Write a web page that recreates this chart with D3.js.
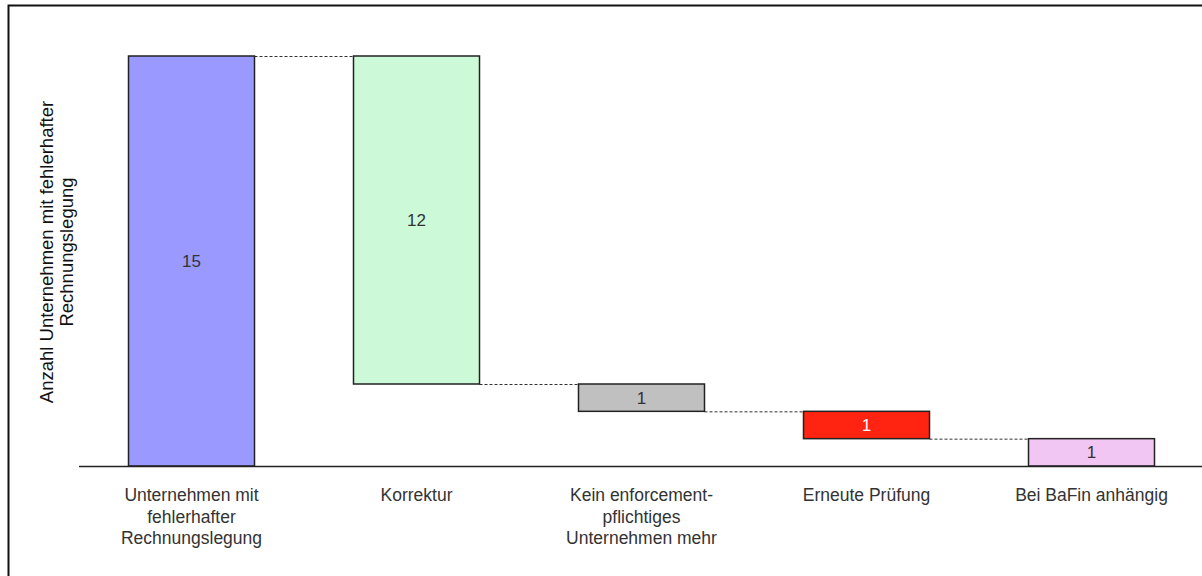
<!DOCTYPE html>
<html>
<head>
<meta charset="utf-8">
<script src="https://cdn.jsdelivr.net/npm/d3@7"></script>
<style>
  html, body { margin: 0; padding: 0; background: #fff; }
  svg { display: block; font-family: "Liberation Sans", Arial, sans-serif; }
</style>
</head>
<body>
<svg id="chart" width="1202" height="576"></svg>
<script>
'use strict'

// waterfall steps: first is the total, the others are taken off it
const categories = [
  ['Unternehmen mit', 'fehlerhafter', 'Rechnungslegung'],
  ['Korrektur'],
  ['Kein enforcement-', 'pflichtiges', 'Unternehmen mehr'],
  ['Erneute Prüfung'],
  ['Bei BaFin anhängig']
]
const values = [15, 12, 1, 1, 1]
const kinds = ['total', 'minus', 'minus', 'minus', 'minus']
const barColors = ['#9999ff', '#ccfad8', '#c0c0c0', '#ff2311', '#f2c6f2']
const labelColors = ['#333', '#333', '#333', '#fff', '#333']
const yTitle = ['Anzahl Unternehmen mit fehlerhafter', 'Rechnungslegung']

const svg = d3.select('#chart')

// outer frame, runs off the right and bottom edge
svg.append('rect')
  .attr('x', 8.5).attr('y', 5.5)
  .attr('width', 1210).attr('height', 590)
  .attr('fill', 'none').attr('stroke', '#111').attr('stroke-width', 2)

// running totals -> start/end of each bar
let level = 0
const steps = values.map((v, i) => {
  let from, to
  if (kinds[i] === 'total') { from = 0; to = v; level = v }
  else { from = level; to = level - v; level = to }
  return { i, v, from, to }
})

const x = d3.scaleBand()
  .domain(d3.range(values.length))
  .range([79, 1204])
  .paddingInner(0.44)
  .paddingOuter(0.22)

const y = d3.scaleLinear()
  .domain([0, 15])
  .range([466, 56])

// connectors between bars
const links = steps.slice(0, -1).map((s, i) => ({ a: s, b: steps[i + 1] }))
svg.append('g').attr('class', 'links')
  .selectAll('line').data(links).enter().append('line')
  .attr('x1', d => x(d.a.i) + x.bandwidth())
  .attr('x2', d => x(d.b.i))
  .attr('y1', d => y(d.a.to) + 0.5)
  .attr('y2', d => y(d.a.to) + 0.5)
  .attr('stroke', '#333').attr('stroke-width', 1)
  .attr('stroke-dasharray', '3,2')

// bars
svg.append('g').attr('class', 'bars')
  .selectAll('rect').data(steps).enter().append('rect')
  .attr('x', d => x(d.i))
  .attr('y', d => y(Math.max(d.from, d.to)))
  .attr('width', x.bandwidth())
  .attr('height', d => Math.abs(y(d.from) - y(d.to)))
  .attr('fill', d => barColors[d.i])
  .attr('stroke', '#222').attr('stroke-width', 1.5)

// values inside the bars
svg.append('g').attr('class', 'values')
  .selectAll('text').data(steps).enter().append('text')
  .attr('x', d => x(d.i) + x.bandwidth() / 2)
  .attr('y', d => (y(d.from) + y(d.to)) / 2)
  .attr('dy', '0.36em')
  .attr('text-anchor', 'middle')
  .attr('font-size', 17)
  .attr('fill', d => labelColors[d.i])
  .text(d => d.v)

// baseline
svg.append('line')
  .attr('x1', x.range()[0]).attr('x2', x.range()[1])
  .attr('y1', y(0) + 0.5).attr('y2', y(0) + 0.5)
  .attr('stroke', '#222').attr('stroke-width', 1.5)

// category labels
const cat = svg.append('g').attr('class', 'categories')
  .selectAll('text').data(categories).enter().append('text')
  .attr('text-anchor', 'middle')
  .attr('font-size', 17.5)
  .attr('fill', '#333')
cat.selectAll('tspan').data((d, i) => d.map(t => ({ t, i }))).enter().append('tspan')
  .attr('x', d => x(d.i) + x.bandwidth() / 2)
  .attr('y', (d, j) => 501 + j * 21.5)
  .text(d => d.t)

// y axis title
const title = svg.append('text')
  .attr('transform', 'translate(53, 252) rotate(-90)')
  .attr('text-anchor', 'middle')
  .attr('font-size', 18.5)
  .attr('fill', '#111')
title.selectAll('tspan').data(yTitle).enter().append('tspan')
  .attr('x', 0)
  .attr('y', (d, j) => j * 20)
  .text(d => d)
</script>
</body>
</html>
